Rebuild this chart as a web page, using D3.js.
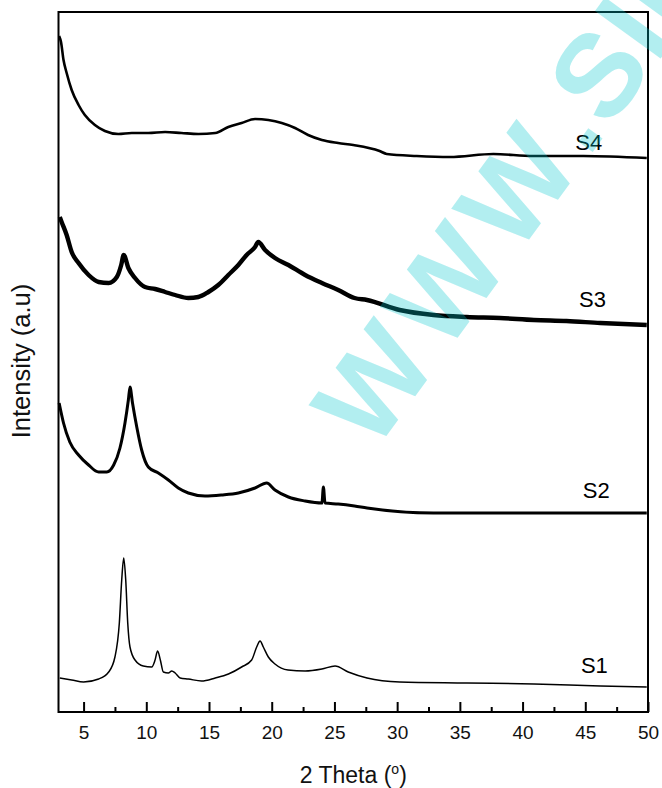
<!DOCTYPE html>
<html>
    <head>
        <style>
            body { margin: 0; background: #fff; }
            svg { display: block; }
        </style>
    </head>
    <body>
        <svg id="chart" width="662" height="788"></svg>

        <script src="https://d3js.org/d3.v7.min.js"></script>
        <script>
            // XRD patterns: [2 theta, intensity (a.u., stacked)]
            const seriesNames = ["S1", "S2", "S3", "S4"];

            const s1 = [[3.1,34],[4.05,32],[5.0,30],[6.2,33],[7.0,40],[7.5,55],[7.85,89],[8.04,132],[8.2,154],
                [8.36,132],[8.52,89],[8.7,65],[9.1,52],[9.76,46],[10.43,45],[10.7,52],[10.9,61],[11.12,52],
                [11.36,40],[11.76,39],[12.03,41],[12.3,39],[12.7,34],[13.35,33],[14.4,31],[15.5,34],[16.55,38],
                [17.6,45],[18.4,52],[18.8,65],[19.07,71],[19.33,65],[19.73,55],[20.26,48],[21.3,42],[22.66,41],
                [24.0,43],[25.05,46],[26.1,40],[27.6,34],[30.2,30],[35.55,29],[40.9,28],[46.2,26],[49.9,25]];

            const s2 = [[3.05,309],[3.2,300],[3.4,289],[3.9,270],[4.6,257],[5.4,247],[6.2,240],[6.85,240],[7.4,247],
                [7.9,264],[8.3,289],[8.57,312],[8.7,325],[8.9,309],[9.24,285],[9.63,262],[10.16,245],[10.96,239],
                [11.76,232],[12.55,224],[13.35,219],[14.68,216],[16.0,217],[17.34,219],[18.67,224],[19.6,229],
                [20.26,222],[21.33,215],[22.66,211],[24.0,209],[24.12,225],[24.25,209],[25.3,208],[26.6,206],
                [27.6,204],[32.9,199],[38.2,199],[43.5,199],[49.9,199]];

            const s3 = [[3.1,495],[3.25,490],[3.65,477],[4.05,460],[4.6,449],[5.4,437],[6.2,430],[7.0,429],[7.65,435],
                [8.0,447],[8.2,457],[8.57,444],[9.1,434],[9.9,425],[10.7,423],[11.5,420],[12.3,417],[13.35,414],
                [14.15,415],[14.95,420],[15.74,427],[16.54,437],[17.34,447],[18.0,457],[18.67,465],[18.93,470],
                [19.47,462],[20.26,454],[21.33,447],[22.66,437],[24.0,429],[25.3,422],[26.6,414],[27.6,412],
                [30.2,402],[32.9,397],[35.55,395],[38.2,394],[40.9,392],[43.5,391],[46.2,389],[49.9,387]];

            const s4 = [[3.05,676],[3.2,670],[3.4,652],[3.65,639],[4.05,622],[4.6,607],[5.1,597],[5.9,587],[6.7,581],
                [7.77,578],[8.84,579],[10.16,579],[11.5,580],[12.8,579],[14.15,578],[15.5,579],[16.54,585],
                [17.6,589],[18.67,593],[19.73,592],[20.8,589],[21.86,584],[22.9,577],[24.0,572],[25.3,569],
                [26.5,567],[28.6,561],[29.17,558],[31.56,556],[34.2,555],[37.67,558],[40.86,556],[44.85,556],
                [49.9,554]];

            const seriesData = [s1, s2, s3, s4];

            const majorTicks = [5, 10, 15, 20, 25, 30, 35, 40, 45, 50];
            const minorTicks = [7.5, 12.5, 17.5, 22.5, 27.5, 32.5, 37.5, 42.5, 47.5];

            // label anchor points (2 theta, intensity)
            const labelTheta = [44.65, 44.8, 44.5, 44.2];
            const labelLevel = [39, 214, 405, 562];

            // look
            const lineWidths = [1.5, 3, 4.4, 2.6];
            const plotLeft = 58.5, plotRight = 648, plotTop = 12, plotBottom = 712;
            const font = "'Liberation Sans', Arial, sans-serif";

            const svg = d3.select("#chart");

            const x = d3.scaleLinear().domain([3, 50]).range([plotLeft, plotRight]);
            const y = d3.scaleLinear().domain([0, 700]).range([plotBottom, plotTop]);

            const line = d3.line()
                .x(d => x(d[0]))
                .y(d => y(d[1]))
                .curve(d3.curveMonotoneX);

            svg.append("g")
                .attr("fill", "none")
                .attr("stroke", "#000")
                .attr("stroke-linejoin", "round")
                .selectAll("path")
                .data(seriesData)
                .join("path")
                    .attr("stroke-width", (d, i) => lineWidths[i])
                    .attr("d", line);

            svg.append("g")
                .attr("font-family", font)
                .attr("font-size", 22)
                .selectAll("text")
                .data(seriesNames)
                .join("text")
                    .attr("x", (d, i) => x(labelTheta[i]))
                    .attr("y", (d, i) => y(labelLevel[i]))
                    .text(d => d);

            // minor ticks
            svg.append("g")
                .attr("transform", `translate(0,${plotBottom})`)
                .call(d3.axisBottom(x).tickValues(minorTicks).tickSize(-5).tickFormat(""))
                .call(g => g.select(".domain").remove())
                .call(g => g.selectAll("line").attr("stroke-width", 2));

            // major ticks + labels
            svg.append("g")
                .attr("transform", `translate(0,${plotBottom})`)
                .call(d3.axisBottom(x).tickValues(majorTicks).tickSizeInner(-10).tickSizeOuter(0).tickPadding(14))
                .call(g => g.select(".domain").remove())
                .call(g => g.selectAll("line").attr("stroke-width", 2))
                .call(g => g.selectAll("text")
                    .attr("font-family", font)
                    .attr("font-size", 19)
                    .attr("fill", "#111"));

            // frame
            svg.append("rect")
                .attr("x", plotLeft)
                .attr("y", plotTop)
                .attr("width", plotRight - plotLeft)
                .attr("height", plotBottom - plotTop)
                .attr("fill", "none")
                .attr("stroke", "#000")
                .attr("stroke-width", 2);

            // axis titles
            const title = svg.append("text")
                .attr("x", (plotLeft + plotRight) / 2)
                .attr("y", 783)
                .attr("text-anchor", "middle")
                .attr("font-family", font)
                .attr("font-size", 23)
                .attr("fill", "#111");
            title.append("tspan").text("2 Theta (");
            title.append("tspan").attr("font-size", 14).attr("dy", -9).text("o");
            title.append("tspan").attr("dy", 9).text(")");

            svg.append("text")
                .attr("transform", "translate(30,361) rotate(-90)")
                .attr("text-anchor", "middle")
                .attr("font-family", font)
                .attr("font-size", 25.5)
                .attr("fill", "#111")
                .text("Intensity (a.u)");

            // watermark on top of the plot
            const mark = svg.append("text")
                .attr("transform", "translate(374,453) rotate(-54)")
                .attr("font-family", font)
                .attr("font-weight", "bold")
                .attr("font-size", 118)
                .attr("fill", "rgb(0,198,205)")
                .attr("fill-opacity", 0.3);
            mark.append("tspan").attr("letter-spacing", 10).text("WWW");
            mark.append("tspan").attr("letter-spacing", 2).text(".SID.IR");
        </script>
    </body>
</html>
